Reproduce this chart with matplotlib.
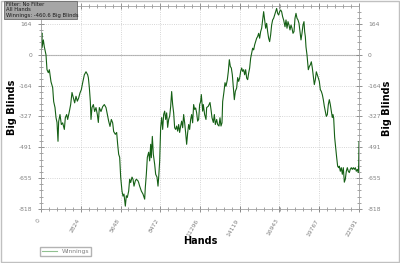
import numpy as np
import matplotlib
matplotlib.use('Agg')
import matplotlib.pyplot as plt
from matplotlib.ticker import FixedLocator, AutoMinorLocator
from matplotlib.patches import Rectangle

# 数据：手数 与 累计盈亏(大盲)
hands = [0, 60, 71, 166, 237, 355, 426, 521, 592, 710, 829, 900, 995, 1066, 1137, 1208, 1255,
         1350, 1445, 1539, 1658, 1729, 1823, 1894, 2013, 2107, 2202, 2297, 2392, 2486, 2581,
         2676, 2771, 2865, 2960, 3079, 3197, 3315, 3363, 3434, 3505, 3552, 3623, 3718, 3813,
         3907, 4002, 4073, 4144, 4262, 4381, 4499, 4618, 4712, 4807, 4902, 4997, 5091, 5162,
         5281, 5375, 5446, 5518, 5589, 5660, 5754, 5825, 5896, 5991, 6062, 6133, 6228, 6299,
         6370, 6465, 6536, 6607, 6701, 6772, 6891, 6938, 7009, 7128, 7246, 7365, 7412, 7483,
         7554, 7649, 7720, 7791, 7838, 7909, 7980, 8075, 8146, 8241, 8312, 8359, 8430, 8501,
         8572, 8643, 8714, 8785, 8856, 8927, 8998, 9069, 9140, 9211, 9282, 9353, 9424, 9495,
         9566, 9637, 9708, 9779, 9850, 9921, 9992, 10063, 10134, 10205, 10276, 10347, 10418,
         10489, 10560, 10631, 10702, 10773, 10844, 10915, 10986, 11057, 11128, 11199, 11270,
         11341, 11390, 11483, 11530, 11625, 11720, 11767, 11885, 12006, 12077, 12148, 12243,
         12314, 12385, 12480, 12551, 12645, 12716, 12787, 12858, 12906, 13000, 13071, 13142,
         13237, 13308, 13379, 13450, 13521, 13592, 13663, 13734, 13805, 13900, 13971, 14042,
         14113, 14184, 14255, 14326, 14397, 14468, 14539, 14610, 14681, 14752, 14823, 14894,
         14965, 15036, 15107, 15178, 15249, 15320, 15391, 15462, 15533, 15604, 15675, 15746,
         15817, 15888, 15959, 16030, 16101, 16172, 16243, 16314, 16385, 16456, 16527, 16598,
         16669, 16740, 16811, 16882, 16953, 17024, 17095, 17166, 17237, 17263, 17334, 17405,
         17476, 17547, 17618, 17689, 17760, 17831, 17902, 17973, 18044, 18115, 18186, 18257,
         18328, 18399, 18470, 18541, 18612, 18683, 18730, 18778, 18825, 18896, 18943, 18991,
         19062, 19133, 19204, 19275, 19346, 19417, 19488, 19559, 19630, 19701, 19772, 19843,
         19914, 19985, 20056, 20127, 20198, 20269, 20340, 20411, 20482, 20553, 20624, 20695,
         20743, 20790, 20861, 20932, 21003, 21074, 21145, 21193, 21264, 21335, 21406, 21477,
         21548, 21619, 21690, 21761, 21832, 21903, 21974, 22045, 22116, 22187, 22258, 22329,
         22400, 22471, 22542, 22570, 22591]
winnings = [5, 116, 37, 79, 42, 0, -79, -95, -79, -143, -174, -248, -280, -333, -359, -459, -354,
            -317, -370, -361, -396, -333, -317, -343, -301, -264, -200, -227, -255, -220, -246,
            -229, -202, -185, -148, -106, -90, -106, -121, -174, -248, -343, -280, -264, -301,
            -280, -317, -359, -280, -301, -275, -264, -280, -317, -352, -380, -343, -361, -407,
            -422, -412, -475, -528, -544, -649, -723, -750, -739, -803, -748, -757, -723, -660,
            -678, -649, -660, -697, -669, -660, -669, -678, -697, -723, -739, -766, -702, -634,
            -544, -517, -563, -475, -546, -433, -528, -581, -634, -649, -697, -651, -565, -385,
            -333, -396, -317, -299, -343, -308, -385, -343, -326, -275, -195, -264, -308, -387,
            -396, -378, -405, -370, -412, -378, -352, -387, -317, -361, -414, -475, -414,
            -370, -396, -343, -317, -361, -264, -290, -282, -308, -352, -343, -264,
            -248, -211, -299, -264, -317, -343, -280, -273, -253, -290, -334, -359,
            -317, -370, -343, -370, -378, -334, -378, -361, -248, -195, -148, -167,
            -132, -88, -26, -62, -70, -106, -174, -238, -194, -176, -121, -141,
            -123, -88, -70, -88, -79, -106, -79, -123, -132, -97, -70, -18,
            9, 35, 26, 53, 70, 88, 97, 114, 88, 123, 141, 185,
            229, 185, 141, 167, 123, 88, 70, 106, 158, 185, 194, 211,
            229, 246, 220, 211, 229, 238, 229, 202, 185, 176, 149, 185,
            141, 176, 158, 132, 158, 141, 114, 123, 194, 220, 194, 185,
            167, 123, 79, 114, 158, 176, 123, 97, 42, 0, -42, -79,
            -62, -53, -37, -70, -116, -158, -132, -90, -106, -123, -141, -185,
            -194, -211, -238, -273, -301, -327, -317, -264, -238, -264, -299, -333,
            -317, -334, -438, -491, -544, -591, -599, -591, -618, -599, -634, -599,
            -676, -660, -618, -599, -618, -625, -607, -599, -608, -599, -608, -599,
            -618, -608, -625, -581, -460.6]

x_ticks = [0, 2824, 5648, 8472, 11296, 14119, 16943, 19767, 22591]
y_tick_labels = ['-818', '-655', '-491', '-327', '-164', '0', '164']
y_step = 163.65

grey = '#808080'

fig = plt.figure(figsize=(4.0, 2.63), dpi=100)
fig.patch.set_facecolor('white')
ax = fig.add_axes([41 / 400, 1 - 209 / 263, 318 / 400, 203 / 263])

line, = ax.plot(hands, winnings, color='#156015', lw=0.8, label='Winnings')
ax.axhline(0, color='#b0b0b0', lw=0.8, zorder=1)

y_ticks = [(i - 5) * y_step for i in range(7)]
ax.set_xlim(0, 22591)
ax.set_ylim(-5 * y_step, 259)
ax.xaxis.set_major_locator(FixedLocator(x_ticks))
ax.set_xticklabels([str(v) for v in x_ticks])
ax.yaxis.set_major_locator(FixedLocator(y_ticks))
ax.set_yticklabels(y_tick_labels)
ax.xaxis.set_minor_locator(AutoMinorLocator(5))
ax.yaxis.set_minor_locator(AutoMinorLocator(5))
ax.grid(True, which='major', color='#c8c8c8', ls=':', lw=0.6)

ax.tick_params(which='both', direction='inout', top=True, right=True,
               labelright=True, color=grey, labelcolor=grey, labelsize=4.3, pad=4)
ax.tick_params(which='major', length=5, width=0.6)
ax.tick_params(which='minor', length=3, width=0.5)
for lbl in ax.get_xticklabels():
    lbl.set_rotation(60)
    lbl.set_ha('right')
    lbl.set_va('top')
for sp in ax.spines.values():
    sp.set_color('#a0a0a0')
    sp.set_linewidth(0.6)

ax.set_xlabel('Hands', fontsize=7, fontweight='bold', labelpad=-1)
ax.set_ylabel('Big Blinds', fontsize=7, fontweight='bold', labelpad=1)
fig.text(387 / 400, 1 - 108 / 263, 'Big Blinds', fontsize=7, fontweight='bold',
         rotation=90, ha='center', va='center')

# 图例
fig.legend(handles=[line], labels=['Winnings'], loc='lower left',
           bbox_to_anchor=(40 / 400, 7 / 263), borderaxespad=0, fontsize=4.3, frameon=True,
           fancybox=False, edgecolor='#a0a0a0', labelcolor=grey,
           handlelength=2.5, borderpad=0.3, handletextpad=0.8)
fig.legends[0].get_lines()[0].set_color('#90c090')

# 左上角信息框
fig.patches.append(Rectangle((4 / 400, 1 - 19 / 263), 73 / 400, 18 / 263, transform=fig.transFigure,
                             facecolor='#a6a6a6', edgecolor='#6a6a6a', lw=0.6, zorder=5))
info = ['Filter: No Filter', 'All Hands', 'Winnings: -460.6 Big Blinds']
for i, t in enumerate(info):
    fig.text(5.5 / 400, 1 - (4.5 + 5.3 * i) / 263, t, fontsize=3.8, color='#1a1a1a',
             va='center', ha='left', zorder=6)

# 外框
fig.patches.append(Rectangle((0.002, 0.004), 0.995, 0.993, transform=fig.transFigure,
                             facecolor='none', edgecolor='#c0c0c0', lw=1.0, zorder=0))

plt.savefig('out.png', dpi=100)
